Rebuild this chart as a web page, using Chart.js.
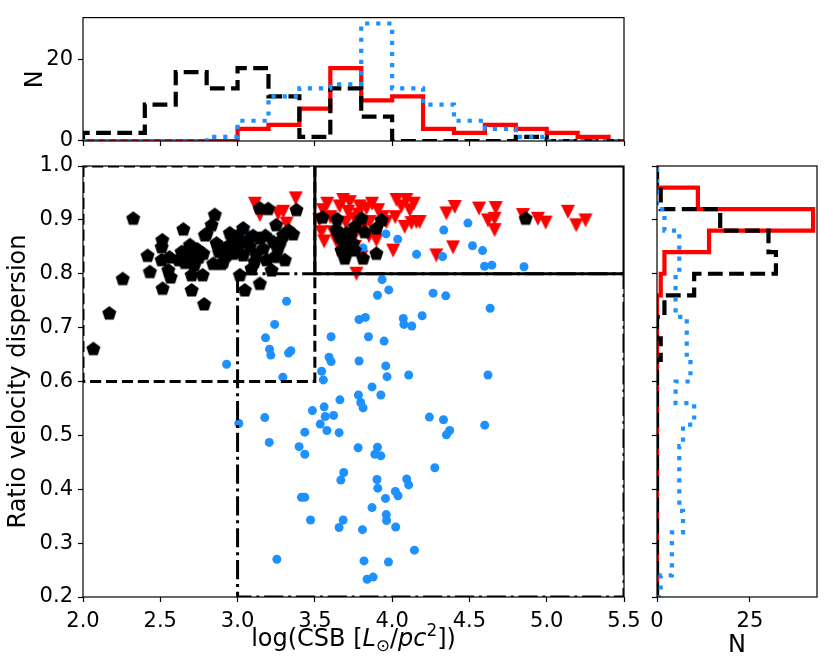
<!DOCTYPE html>
<html>
<head>
<meta charset="utf-8">
<script src="https://cdn.jsdelivr.net/npm/chart.js@4.4.1/dist/chart.umd.min.js"></script>
<style>
  html, body { margin: 0; padding: 0; background: #fff; }
  #wrap { position: relative; width: 831px; height: 671px; }
  #wrap canvas { position: absolute; left: 0; top: 0; }
</style>
</head>
<body>
<div id="wrap">
  <canvas id="topHist" width="831" height="671"></canvas>
  <canvas id="mainChart" width="831" height="671"></canvas>
  <canvas id="rightHist" width="831" height="671"></canvas>
</div>
<script>
// --- scatter values: log(CSB) and ratio of velocity dispersion ---
const blackCSB = [2.067, 2.170, 2.257, 2.325, 2.418, 2.433, 2.513, 2.509, 2.509, 2.515,
  2.552, 2.567, 2.560, 2.649, 2.638, 2.670, 2.692, 2.620, 2.660, 2.700,
  2.740, 2.750, 2.703, 2.774, 2.703, 2.784, 2.789, 2.778, 2.680, 2.720,
  2.842, 2.896, 2.853, 2.832, 2.800, 2.864, 2.929, 2.929, 2.907, 2.971,
  2.971, 2.950, 2.880, 3.015, 3.036, 3.036, 3.015, 3.047, 3.090, 3.110,
  3.144, 3.144, 3.166, 3.187, 3.144, 3.198, 3.000, 3.080, 3.120, 3.005,
  3.060, 3.100, 3.180, 3.241, 3.306, 3.220, 3.230, 3.381, 3.359, 3.295,
  3.260, 3.280, 3.330, 3.250, 3.549, 3.644, 3.801, 3.931, 3.758, 3.823,
  3.898, 3.640, 3.661, 3.683, 3.747, 3.672, 3.758, 3.694, 3.812, 3.898,
  3.705, 3.720, 3.700, 3.730, 4.864];
const blackRatio = [0.660, 0.726, 0.790, 0.902, 0.833, 0.803, 0.862, 0.849, 0.825, 0.772,
  0.806, 0.793, 0.830, 0.882, 0.840, 0.831, 0.853, 0.825, 0.820, 0.835,
  0.845, 0.830, 0.797, 0.797, 0.769, 0.743, 0.871, 0.837, 0.845, 0.815,
  0.818, 0.818, 0.909, 0.890, 0.874, 0.856, 0.849, 0.834, 0.821, 0.862,
  0.837, 0.875, 0.840, 0.859, 0.834, 0.884, 0.797, 0.769, 0.809, 0.822,
  0.781, 0.865, 0.846, 0.825, 0.921, 0.920, 0.870, 0.850, 0.835, 0.852,
  0.860, 0.870, 0.870, 0.831, 0.825, 0.806, 0.859, 0.918, 0.873, 0.871,
  0.845, 0.860, 0.880, 0.890, 0.904, 0.901, 0.902, 0.899, 0.887, 0.877,
  0.884, 0.881, 0.868, 0.859, 0.856, 0.843, 0.843, 0.828, 0.828, 0.837,
  0.875, 0.850, 0.840, 0.870, 0.902];

const blueCSB = [3.935, 3.978, 3.905, 4.265, 4.347, 3.317, 4.634, 3.786, 3.827, 4.072,
  4.076, 4.127, 4.194, 3.240, 3.605, 3.847, 3.948, 3.181, 3.207, 3.215,
  3.330, 3.345, 2.929, 3.592, 3.605, 3.786, 3.959, 3.967, 4.107, 4.620,
  3.544, 3.555, 3.293, 3.870, 3.927, 3.782, 3.662, 3.797, 3.812, 3.560,
  3.484, 3.567, 3.621, 3.176, 3.008, 3.535, 3.578, 3.657, 3.435, 4.241,
  4.332, 4.372, 4.351, 4.599, 3.205, 3.398, 3.435, 3.780, 3.905, 3.888,
  3.927, 3.687, 3.668, 3.902, 3.907, 4.094, 4.107, 4.021, 4.038, 3.957,
  4.276, 3.413, 3.435, 3.870, 3.962, 3.964, 3.472, 3.683, 3.657, 3.808,
  4.023, 4.144, 3.254, 3.818, 3.976, 3.838, 3.877, 3.960, 4.036, 4.158,
  4.334, 4.326, 4.490, 4.520, 4.585, 4.598, 4.645, 4.853, 3.062, 3.812];
const blueRatio = [0.789, 0.770, 0.760, 0.764, 0.759, 0.749, 0.736, 0.715, 0.719, 0.717,
  0.706, 0.703, 0.722, 0.706, 0.683, 0.683, 0.675, 0.681, 0.660, 0.649,
  0.653, 0.657, 0.632, 0.645, 0.637, 0.638, 0.629, 0.609, 0.612, 0.612,
  0.619, 0.603, 0.608, 0.590, 0.575, 0.575, 0.566, 0.561, 0.551, 0.553,
  0.546, 0.535, 0.537, 0.533, 0.522, 0.521, 0.509, 0.505, 0.506, 0.534,
  0.529, 0.509, 0.501, 0.519, 0.487, 0.479, 0.465, 0.477, 0.478, 0.465,
  0.462, 0.431, 0.417, 0.418, 0.402, 0.419, 0.408, 0.396, 0.388, 0.383,
  0.440, 0.385, 0.385, 0.366, 0.353, 0.342, 0.343, 0.343, 0.329, 0.325,
  0.330, 0.287, 0.270, 0.267, 0.265, 0.233, 0.237, 0.874, 0.864, 0.836,
  0.881, 0.832, 0.894, 0.852, 0.843, 0.814, 0.816, 0.813, 0.874, 0.848];

const redCSB = [3.101, 3.112, 3.144, 3.262, 3.295, 3.317, 3.376,
  3.553, 3.530, 3.543, 3.560, 3.580, 3.600, 3.618, 3.683, 3.726, 3.715, 3.660,
  3.700, 3.758, 3.769, 3.769, 3.801, 3.790, 3.640, 3.740, 3.680, 3.760, 3.780,
  3.834, 3.855, 3.898, 3.909, 3.963, 3.870, 3.940, 3.850, 3.820,
  4.006, 4.028, 4.092, 4.114, 4.081, 4.157, 4.178, 4.125, 4.060, 4.020, 4.140,
  4.286, 4.351, 4.394, 4.405, 4.562, 4.620, 4.663, 4.663, 4.670, 4.846,
  4.943, 4.993, 5.137, 5.191, 5.251];
const redRatio = [0.865, 0.930, 0.909, 0.912, 0.915, 0.893, 0.940,
  0.918, 0.900, 0.877, 0.860, 0.930, 0.905, 0.877, 0.937, 0.933, 0.915, 0.925,
  0.895, 0.902, 0.877, 0.800, 0.831, 0.925, 0.860, 0.870, 0.850, 0.850, 0.910,
  0.921, 0.896, 0.862, 0.918, 0.896, 0.930, 0.905, 0.870, 0.890,
  0.843, 0.937, 0.937, 0.918, 0.887, 0.896, 0.896, 0.894, 0.925, 0.905, 0.930,
  0.834, 0.912, 0.849, 0.924, 0.921, 0.899, 0.902, 0.881, 0.922, 0.909,
  0.902, 0.895, 0.915, 0.890, 0.899];

// --- region boxes (data coords) ---
const dashedBoxX = [2.0, 3.5], dashedBoxY = [0.6, 1.0];
const dashDotBoxX = [3.0, 5.5], dashDotBoxY = [0.2, 0.8];
const solidBoxX = [3.5, 5.5], solidBoxY = [0.8, 1.0];

// --- top histogram (counts per log(CSB) bin) ---
const csbEdges = [2.0, 2.2, 2.4, 2.6, 2.8, 3.0, 3.2, 3.4, 3.6, 3.8, 4.0, 4.2, 4.4, 4.6, 4.8, 5.0, 5.2, 5.4, 5.6];
const topBlack = [2, 2, 9, 17, 13, 18, 11, 1, 13, 6, 0, 0, 0, 0, 1, 0, 0, 0];
const topRed   = [0, 0, 0, 0, 0, 3, 4, 8, 18, 10, 11, 3, 2, 4, 3, 2, 1, 0];
const topBlue  = [0, 0, 0, 0, 1, 5, 11, 13, 14, 29, 13, 9, 5, 3, 1, 0, 0, 0];

// --- right histogram (counts per ratio bin, bottom to top) ---
const ratioEdges = [0.20, 0.24, 0.28, 0.32, 0.36, 0.40, 0.44, 0.48, 0.52, 0.56, 0.60,
  0.64, 0.68, 0.72, 0.76, 0.80, 0.84, 0.88, 0.92, 0.96, 1.00];
const rightBlack = [0, 0, 0, 0, 0, 0, 0, 0, 0, 0, 0, 1, 0, 2, 10, 32, 30, 17, 1, 0];
const rightRed   = [0, 0, 0, 0, 0, 0, 0, 0, 0, 0, 0, 0, 0, 0, 1, 2, 14, 42, 11, 0];
const rightBlue  = [1, 4, 4, 7, 6, 6, 6, 7, 10, 5, 9, 8, 8, 5, 5, 6, 6, 2, 0, 0];

const csbTicks = [2.0, 5.5, 0.5];      // min, max, step
const ratioTicks = [0.2, 1.0, 0.1];
const topCountMax = 30.45, rightCountMax = 43.05;

const RED = '#ff0000', BLUE = '#1e90ff', BLACK = '#000000';

Chart.defaults.font.family = "'DejaVu Sans', sans-serif";
Chart.defaults.font.size = 21;
Chart.defaults.color = '#000';

// marker images
function pentagonMarker(r, color) {
  const s = Math.ceil(2 * r + 2);
  const c = document.createElement('canvas');
  c.width = s; c.height = s;
  const g = c.getContext('2d');
  g.fillStyle = color;
  g.beginPath();
  for (let k = 0; k < 5; k++) {
    const a = -Math.PI / 2 + k * 2 * Math.PI / 5;
    g.lineTo(s / 2 + r * Math.cos(a), s / 2 + r * Math.sin(a));
  }
  g.closePath();
  g.fill();
  return c;
}
function triangleDownMarker(h, color) {
  const s = Math.ceil(2 * h + 2);
  const c = document.createElement('canvas');
  c.width = s; c.height = s;
  const g = c.getContext('2d');
  g.fillStyle = color;
  g.beginPath();
  g.moveTo(s / 2 - h, s / 2 - h);
  g.lineTo(s / 2 + h, s / 2 - h);
  g.lineTo(s / 2, s / 2 + h);
  g.closePath();
  g.fill();
  return c;
}

const zip = (xs, ys) => xs.map((x, i) => ({ x: x, y: ys[i] }));
const rectPath = (xs, ys) => [
  { x: xs[0], y: ys[1] }, { x: xs[0], y: ys[0] }, { x: xs[1], y: ys[0] },
  { x: xs[1], y: ys[1] }, { x: xs[0], y: ys[1] }
];
// outline of a histogram with vertical bins (horizontal step first)
function stepColumns(edges, counts) {
  const pts = [{ x: edges[0], y: 0 }];
  counts.forEach((c, i) => pts.push({ x: edges[i], y: c }));
  pts.push({ x: edges[edges.length - 1], y: 0 });
  return pts;
}
// outline of a histogram with horizontal bins (vertical step first)
function stepRows(edges, counts) {
  const pts = [{ x: 0, y: edges[0] }];
  counts.forEach((c, i) => pts.push({ x: c, y: edges[i] }));
  pts.push({ x: 0, y: edges[edges.length - 1] });
  return pts;
}

const DASHED = [14.8, 6.4], DOTTED = [4.2, 6.9];
function histLine(points, color, dash, stepped) {
  return {
    data: points, showLine: true, stepped: stepped,
    borderColor: color, borderWidth: 4.2, borderDash: dash,
    pointRadius: 0, fill: false, clip: 0
  };
}
function boxLine(points, dash) {
  return {
    data: points, showLine: true, borderColor: BLACK, borderWidth: 3,
    borderDash: dash, pointRadius: 0, fill: false, clip: 0
  };
}

const tickGrid = {
  drawOnChartArea: false, drawTicks: true, tickLength: 5,
  tickWidth: 1.2, color: '#000', tickColor: '#000'
};

// axes frame drawn over the data, like the matplotlib spines
const frame = {
  id: 'frame',
  afterDatasetsDraw(chart) {
    const { ctx, chartArea: a } = chart;
    ctx.save();
    ctx.strokeStyle = '#000';
    ctx.lineWidth = 1.2;
    ctx.strokeRect(a.left, a.top, a.right - a.left, a.bottom - a.top);
    ctx.restore();
  }
};

// x-axis title with italic / sub / superscript parts
const csbTitle = {
  id: 'csbTitle',
  afterDraw(chart) {
    const ctx = chart.ctx, a = chart.chartArea;
    const size = 24, small = size * 0.7;
    const fam = "'DejaVu Sans', sans-serif";
    const parts = [
      { t: 'log(CSB [', f: size + 'px ' + fam, dy: 0 },
      { t: 'L', f: 'italic ' + size + 'px ' + fam, dy: 0 },
      { t: '⊙', f: small + 'px ' + fam, dy: 0.2 * size },
      { t: '/', f: size + 'px ' + fam, dy: 0 },
      { t: 'pc', f: 'italic ' + size + 'px ' + fam, dy: 0 },
      { t: '2', f: small + 'px ' + fam, dy: -0.42 * size },
      { t: '])', f: size + 'px ' + fam, dy: 0 }
    ];
    ctx.save();
    ctx.fillStyle = '#000';
    ctx.textBaseline = 'alphabetic';
    ctx.textAlign = 'left';
    let total = 0;
    parts.forEach(p => { ctx.font = p.f; p.w = ctx.measureText(p.t).width; total += p.w; });
    let x = (a.left + a.right) / 2 - total / 2;
    const base = a.bottom + 49;
    parts.forEach(p => { ctx.font = p.f; ctx.fillText(p.t, x, base + p.dy); x += p.w; });
    ctx.restore();
  }
};

const base = {
  responsive: false,
  animation: false,
  events: [],
  plugins: { legend: { display: false }, tooltip: { enabled: false } }
};

// ---------- top histogram ----------
new Chart(document.getElementById('topHist'), {
  type: 'scatter',
  data: {
    datasets: [
      histLine(stepColumns(csbEdges, topBlue), BLUE, DOTTED, 'before'),
      histLine(stepColumns(csbEdges, topBlack), BLACK, DASHED, 'before'),
      histLine(stepColumns(csbEdges, topRed), RED, [], 'before')
    ]
  },
  options: Object.assign({}, base, {
    layout: { padding: { left: 0, top: 14, right: 207, bottom: 521 } },
    scales: {
      x: {
        type: 'linear', min: csbTicks[0], max: csbTicks[1],
        afterFit: s => { s.height = 9; },
        ticks: { display: false, stepSize: csbTicks[2], includeBounds: false },
        grid: tickGrid, border: { display: false }
      },
      y: {
        type: 'linear', min: 0, max: topCountMax,
        afterFit: s => { s.width = 83; },
        ticks: { stepSize: 20, includeBounds: false, padding: 5, autoSkip: false },
        grid: tickGrid, border: { display: false },
        title: { display: true, text: 'N', font: { size: 24 }, padding: { top: 21, bottom: 0 } }
      }
    }
  }),
  plugins: [frame]
});

// ---------- main scatter ----------
new Chart(document.getElementById('mainChart'), {
  type: 'scatter',
  data: {
    datasets: [
      boxLine(rectPath(solidBoxX, solidBoxY), []),
      boxLine(rectPath(dashedBoxX, dashedBoxY), [11.1, 4.8]),
      boxLine(rectPath(dashDotBoxX, dashDotBoxY), [19.2, 4.8, 3, 4.8]),
      { data: zip(blackCSB, blackRatio), pointStyle: pentagonMarker(7.4, BLACK), pointRadius: 6 },
      { data: zip(blueCSB, blueRatio), pointStyle: 'circle', pointRadius: 4.5,
        backgroundColor: BLUE, borderColor: BLUE, borderWidth: 0 },
      { data: zip(redCSB, redRatio), pointStyle: triangleDownMarker(7, RED), pointRadius: 6 }
    ]
  },
  options: Object.assign({}, base, {
    layout: { padding: { left: 0, top: 166, right: 207, bottom: 0 } },
    scales: {
      x: {
        type: 'linear', min: csbTicks[0], max: csbTicks[1],
        afterFit: s => { s.height = 74; },
        ticks: { stepSize: csbTicks[2], includeBounds: false, padding: 7, autoSkip: false,
          maxRotation: 0, callback: v => v.toFixed(1) },
        grid: tickGrid, border: { display: false }
      },
      y: {
        type: 'linear', min: ratioTicks[0], max: ratioTicks[1],
        afterFit: s => { s.width = 83; },
        ticks: { stepSize: ratioTicks[2], includeBounds: false, padding: 5, autoSkip: false,
          callback: v => v.toFixed(1) },
        grid: tickGrid, border: { display: false },
        title: { display: true, text: 'Ratio velocity dispersion', font: { size: 24 },
          padding: { top: 4, bottom: 0 } }
      }
    }
  }),
  plugins: [frame, csbTitle]
});

// ---------- right histogram ----------
new Chart(document.getElementById('rightHist'), {
  type: 'scatter',
  data: {
    datasets: [
      histLine(stepRows(ratioEdges, rightBlue), BLUE, DOTTED, 'after'),
      histLine(stepRows(ratioEdges, rightBlack), BLACK, DASHED, 'after'),
      histLine(stepRows(ratioEdges, rightRed), RED, [], 'after')
    ]
  },
  options: Object.assign({}, base, {
    layout: { padding: { left: 640, top: 166, right: 14, bottom: 0 } },
    scales: {
      x: {
        type: 'linear', min: 0, max: rightCountMax,
        afterFit: s => { s.height = 74; },
        ticks: { stepSize: 25, includeBounds: false, padding: 7, autoSkip: false, maxRotation: 0 },
        grid: tickGrid, border: { display: false },
        title: { display: true, text: 'N', font: { size: 24 }, padding: { top: 0, bottom: 11 } }
      },
      y: {
        type: 'linear', min: ratioTicks[0], max: ratioTicks[1],
        afterFit: s => { s.width = 17; },
        ticks: { display: false, stepSize: ratioTicks[2], includeBounds: false },
        grid: tickGrid, border: { display: false }
      }
    }
  }),
  plugins: [frame]
});
</script>
</body>
</html>
